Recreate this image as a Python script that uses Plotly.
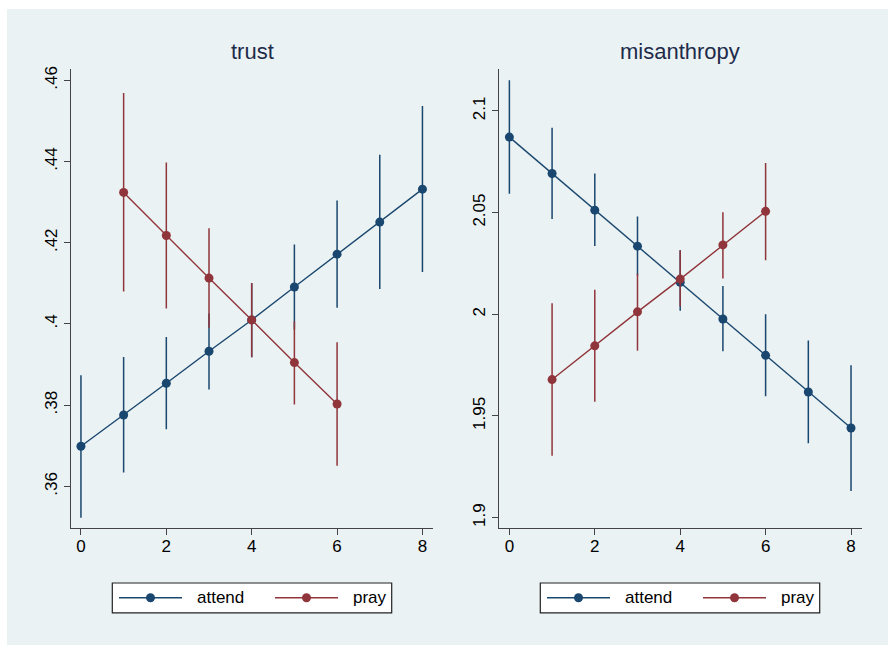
import plotly.graph_objects as go

# ---------------- data ----------------
x_attend = [0, 1, 2, 3, 4, 5, 6, 7, 8]
x_pray = [1, 2, 3, 4, 5, 6]

trust_attend = [0.3699, 0.3776, 0.3854, 0.3933, 0.4010, 0.4091, 0.4172, 0.4251, 0.4332]
trust_attend_hi = [0.3874, 0.3919, 0.3968, 0.4026, 0.4101, 0.4196, 0.4304, 0.4417, 0.4537]
trust_attend_lo = [0.3523, 0.3634, 0.3741, 0.3839, 0.3918, 0.3986, 0.4040, 0.4086, 0.4128]

trust_pray = [0.4324, 0.4218, 0.4113, 0.4010, 0.3905, 0.3803]
trust_pray_hi = [0.4569, 0.4398, 0.4236, 0.4101, 0.4007, 0.3955]
trust_pray_lo = [0.4080, 0.4038, 0.3991, 0.3918, 0.3802, 0.3651]

mis_attend = [2.0871, 2.0692, 2.0512, 2.0335, 2.0157, 1.9977, 1.9798, 1.9618, 1.9441]
mis_attend_hi = [2.1150, 2.0917, 2.0692, 2.0481, 2.0315, 2.0139, 2.0000, 1.9871, 1.9750]
mis_attend_lo = [2.0592, 2.0468, 2.0336, 2.0190, 2.0017, 1.9818, 1.9597, 1.9366, 1.9131]

mis_pray = [1.9679, 1.9845, 2.0012, 2.0173, 2.0341, 2.0506]
mis_pray_hi = [2.0054, 2.0121, 2.0200, 2.0315, 2.0502, 2.0744]
mis_pray_lo = [1.9305, 1.9570, 1.9821, 2.0038, 2.0176, 2.0266]

series_names = ["attend", "pray"]
panel_titles = ["trust", "misanthropy"]

x_ticks = [0, 2, 4, 6, 8]
trust_ticks = [0.36, 0.38, 0.40, 0.42, 0.44, 0.46]
trust_ticktext = [".36", ".38", ".4", ".42", ".44", ".46"]
mis_ticks = [1.90, 1.95, 2.00, 2.05, 2.10]
mis_ticktext = ["1.9", "1.95", "2", "2.05", "2.1"]

# ---------------- style ----------------
W, H = 888, 645
NAVY = "#1a476f"
MAROON = "#90353b"
colors = [NAVY, MAROON]
BG = "#eaf2f3"
GRID = "#eaf2f3"
AXIS = "#444444"
FONT = "Liberation Sans, Arial, sans-serif"


def px(x):
    return x / W


def py(y):
    return 1 - y / H


fig = go.Figure()


def add_series(xs, ys, hi, lo, color, name, xa, ya):
    fig.add_trace(go.Scatter(
        x=xs, y=ys, mode="lines+markers", name=name,
        line=dict(color=color, width=1.4),
        marker=dict(color=color, size=9),
        error_y=dict(type="data", symmetric=False,
                     array=[h - v for h, v in zip(hi, ys)],
                     arrayminus=[v - l for v, l in zip(ys, lo)],
                     color=color, thickness=1.5, width=0),
        xaxis=xa, yaxis=ya, showlegend=False,
    ))


add_series(x_attend, trust_attend, trust_attend_hi, trust_attend_lo, NAVY, "attend", "x", "y")
add_series(x_pray, trust_pray, trust_pray_hi, trust_pray_lo, MAROON, "pray", "x", "y")
add_series(x_attend, mis_attend, mis_attend_hi, mis_attend_lo, NAVY, "attend", "x2", "y2")
add_series(x_pray, mis_pray, mis_pray_hi, mis_pray_lo, MAROON, "pray", "x2", "y2")

ydom = [py(527.3), py(66.7)]
common_x = dict(tickvals=x_ticks, ticks="outside", ticklen=6, tickcolor=AXIS,
                showline=True, linecolor=AXIS, linewidth=1.2, showgrid=False,
                zeroline=False, ticklabelstandoff=-3,
                tickfont=dict(size=17, color="black", family=FONT))
common_y = dict(ticks="outside", ticklen=6, tickcolor=AXIS, tickangle=-90,
                showline=True, linecolor=AXIS, linewidth=1.2, showgrid=True,
                gridcolor=GRID, gridwidth=1.2, zeroline=False,
                tickfont=dict(size=17, color="black", family=FONT))

fig.update_layout(
    width=W, height=H,
    margin=dict(l=0, r=0, t=0, b=0),
    paper_bgcolor="white",
    plot_bgcolor="white",
    font=dict(family=FONT),
    xaxis=dict(domain=[px(70.7), px(432.7)], range=[-0.24, 8.24], anchor="y", **common_x),
    yaxis=dict(domain=ydom, range=[0.3498, 0.4627], anchor="x",
               tickvals=trust_ticks, ticktext=trust_ticktext, **common_y),
    xaxis2=dict(domain=[px(498.7), px(861.7)], range=[-0.25, 8.25], anchor="y2", **common_x),
    yaxis2=dict(domain=ydom, range=[1.895, 2.1204], anchor="x2",
                tickvals=mis_ticks, ticktext=mis_ticktext, **common_y),
    showlegend=False,
)

shapes = []
annotations = []
# outer graph region background
shapes.append(dict(type="rect", xref="paper", yref="paper", layer="below",
                   x0=px(7), x1=px(888), y0=py(645), y1=py(6),
                   fillcolor=BG, line=dict(width=0)))

# panel titles
for title, cx in zip(panel_titles, [252, 680]):
    annotations.append(dict(text=title, xref="paper", yref="paper",
                            x=px(cx), y=py(49), showarrow=False,
                            xanchor="center", yanchor="middle",
                            font=dict(size=22, color="#1e2b4a", family=FONT)))

# manual legends (one per panel)
for left in [112.3, 540.3]:
    shapes.append(dict(type="rect", xref="paper", yref="paper",
                       x0=px(left), x1=px(left + 279.4), y0=py(612.7), y1=py(582.7),
                       fillcolor="white", line=dict(color="#222222", width=1.2)))
    ymid = 597.5
    for i, (name, col) in enumerate(zip(series_names, colors)):
        k0 = left + 6.7 + i * 156
        shapes.append(dict(type="line", xref="paper", yref="paper",
                           x0=px(k0), x1=px(k0 + 63), y0=py(ymid), y1=py(ymid),
                           line=dict(color=col, width=1.6)))
        shapes.append(dict(type="circle", xref="paper", yref="paper",
                           xsizemode="pixel", ysizemode="pixel",
                           xanchor=px(k0 + 31.5), yanchor=py(ymid),
                           x0=-4.5, x1=4.5, y0=-4.5, y1=4.5,
                           fillcolor=col, line=dict(color=col, width=0)))
        annotations.append(dict(text=name, xref="paper", yref="paper",
                                x=px(k0 + 76), y=py(ymid), showarrow=False,
                                xanchor="left", yanchor="middle",
                                font=dict(size=17, color="black", family=FONT)))

fig.update_layout(shapes=shapes, annotations=annotations)

fig.write_html("out.html", config={"displayModeBar": False},
               post_script="document.body.style.margin='0';document.body.style.padding='0';")
